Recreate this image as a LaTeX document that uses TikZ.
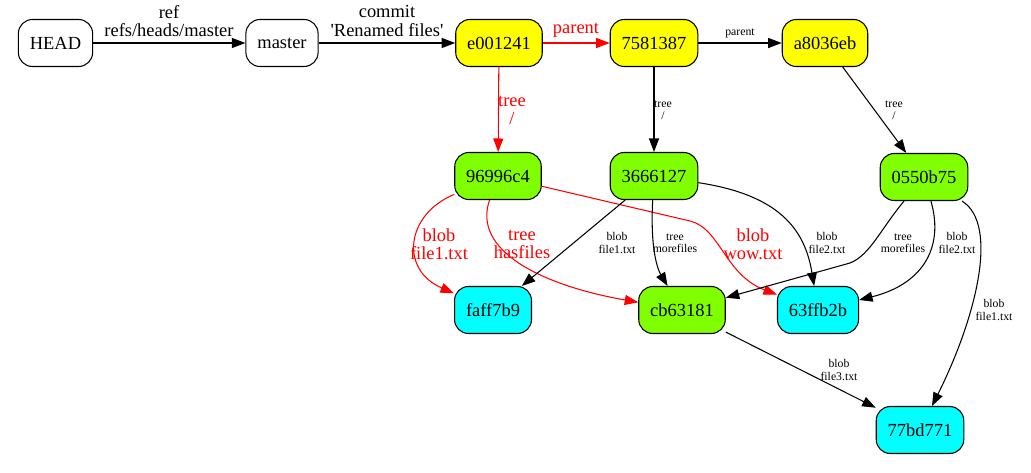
\documentclass[tikz,border=0pt]{standalone}
\usepackage{fontspec}
\setmainfont{Liberation Serif}
\usepackage{xcolor}
\usetikzlibrary{arrows.meta}
\definecolor{chartreuse}{RGB}{127,255,0}
\definecolor{aqua}{RGB}{0,255,255}
\definecolor{lemon}{RGB}{255,255,0}

\begin{document}
\begin{tikzpicture}[x=0.02cm, y=-0.02cm,
        objbox/.style={draw=black, line width=0.6pt, rounded corners=0.28cm,
                minimum height=0.94cm, inner xsep=0.23cm,
                font=\fontsize{10.5}{12}\selectfont},
        refbox/.style={objbox, fill=white},
        commitbox/.style={objbox, fill=lemon},
        treebox/.style={objbox, fill=chartreuse},
        blobbox/.style={objbox, fill=aqua},
        link/.style={-{Triangle[length=0.27cm, width=0.2cm]}, line width=0.6pt},
        redlink/.style={link, red},
        biglab/.style={align=center, inner sep=0pt, font=\fontsize{10.5}{10.3}\selectfont},
        smalllab/.style={align=center, inner sep=0pt, font=\fontsize{6.7}{6.9}\selectfont}]
        \useasboundingbox (0,0) rectangle (1031,473);

        \node[refbox] (head) at (55.5,43) {HEAD};
        \node[refbox] (master) at (282,43) {master};
        \node[commitbox] (e001) at (499,43) {e001241};
        \node[commitbox] (c758) at (654,43) {7581387};
        \node[commitbox] (a803) at (825,43) {a8036eb};
        \node[treebox] (t969) at (498,176) {96996c4};
        \node[treebox] (t366) at (654,176) {3666127};
        \node[treebox] (t055) at (924,177) {0550b75};
        \node[blobbox] (faff) at (493,310) {faff7b9};
        \node[treebox] (cb63) at (682,310) {cb63181};
        \node[blobbox] (b63f) at (818,310) {63ffb2b};
        \node[blobbox] (b77b) at (920,430) {77bd771};

        \node[biglab] (lref) at (169,21) {ref\\refs/heads/master};
        \node[biglab] (lcommit) at (387,21) {commit\\\textquotesingle Renamed files\textquotesingle};
        \node[biglab, text=red] (lpar1) at (576,30) {parent};
        \node[smalllab] (lpar2) at (740,33) {parent};
        \node[biglab, text=red] (ltree1) at (512,110) {tree\\/};
        \node[smalllab] (ltree2) at (663,110) {tree\\/};
        \node[smalllab] (ltree3) at (894,110) {tree\\/};
        \node[biglab, text=red] (lf1a) at (439,244) {blob\\file1.txt};
        \node[biglab, text=red] (lhas) at (522,244) {tree\\hasfiles};
        \node[smalllab] (lf1b) at (617,243) {blob\\file1.txt};
        \node[smalllab] (lmore1) at (675,243) {tree\\morefiles};
        \node[biglab, text=red] (lwow) at (753,244) {blob\\wow.txt};
        \node[smalllab] (lf2a) at (827,243) {blob\\file2.txt};
        \node[smalllab] (lmore2) at (903,243) {tree\\morefiles};
        \node[smalllab] (lf2b) at (957,243) {blob\\file2.txt};
        \node[smalllab] (lf1c) at (994,310) {blob\\file1.txt};
        \node[smalllab] (lf3) at (839,370) {blob\\file3.txt};

        \draw[link] (head) -- (master);
        \draw[link] (master) -- (e001);
        \draw[redlink] (e001) -- (c758);
        \draw[link] (c758) -- (a803);
        \draw[redlink] (e001) -- (t969);
        \draw[link] (c758) -- (t366);
        \draw[link] (a803) -- (t055);
        \draw[redlink] (t969) .. controls (405,215) and (400,270) .. (faff);
        \draw[redlink] (t969) .. controls (472,250) and (540,285) .. (cb63);
        \draw[redlink] (t969) -- (690,221) .. controls (720,228) and (725,275) .. (b63f);
        \draw[link] (t366) -- (faff);
        \draw[link] (t366) .. controls (650,250) and (658,270) .. (cb63);
        \draw[link] (t366) .. controls (780,195) and (805,230) .. (b63f);
        \draw[link] (t055) .. controls (880,230) and (870,255) .. (850,263) -- (cb63);
        \draw[link] (t055) .. controls (945,250) and (920,285) .. (b63f);
        \draw[link] (t055) .. controls (1000,225) and (975,320) .. (b77b);
        \draw[link] (cb63) -- (b77b);
\end{tikzpicture}
\end{document}
